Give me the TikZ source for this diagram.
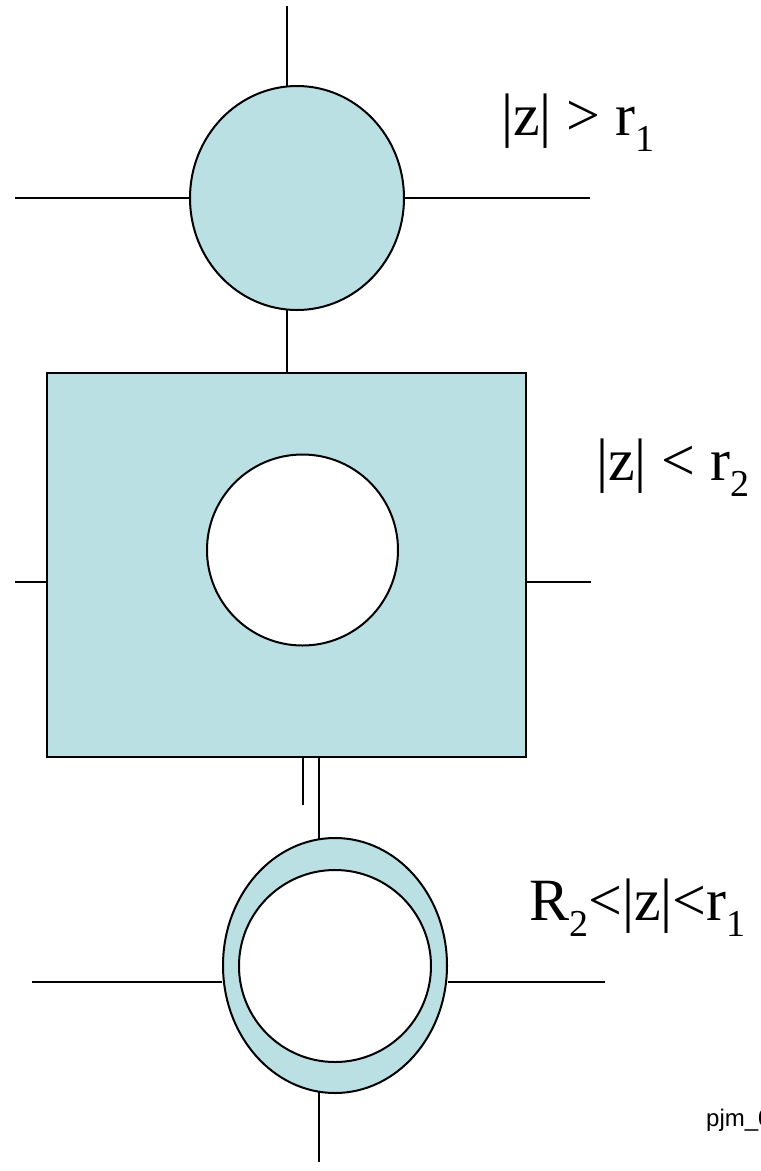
\documentclass[tikz,border=0pt]{standalone}
\usepackage{fontspec}
\setmainfont{Liberation Serif}
\newfontfamily\labsans{Liberation Sans}
\usetikzlibrary{shapes.geometric}
\definecolor{fillblue}{RGB}{187,224,227}
\newcommand{\subnum}[1]{\raisebox{-0.28em}{\fontsize{38}{38}\selectfont #1}}
\begin{document}
\begin{tikzpicture}[x=1pt,y=-1pt,
  ln/.style={line width=2pt,black},
  shapefill/.style={line width=2pt,draw=black,fill=fillblue},
  hole/.style={line width=2pt,draw=black,fill=white},
  lab/.style={anchor=base west,inner sep=0pt,font=\fontsize{60}{60}\selectfont}]
\useasboundingbox (0,0) rectangle (761,1171);
% top disc
\node[shapefill,ellipse,minimum width=214pt,minimum height=224pt,inner sep=0pt] (top) at (297,198) {};
\coordinate (t1) at (287,6);
\coordinate (t2) at (287,86);
\coordinate (t3) at (287,309);
\coordinate (tl) at (15,198);
\coordinate (tr) at (590,198);
\draw[ln] (t1) -- (t2);
\draw[ln] (tl) -- (top.west);
\draw[ln] (top.east) -- (tr);
% rectangle
\node[shapefill,rectangle,minimum width=479pt,minimum height=384pt,inner sep=0pt] (box) at (286.5,565) {};
\draw[ln] (t3) -- (box.north -| t3);
\node[hole,circle,minimum size=191pt,inner sep=0pt] (boxhole) at (302.5,550) {};
\coordinate (bl) at (15,582);
\coordinate (br) at (591,582);
\draw[ln] (bl) -- (bl -| box.west);
\draw[ln] (br -| box.east) -- (br);
% connectors below the rectangle
\coordinate (s1) at (303,757);
\coordinate (s2) at (303,805);
\draw[ln] (s1) -- (s2);
\coordinate (l1) at (319,757);
\coordinate (l2) at (319,839);
\draw[ln] (l1) -- (l2);
% annulus
\node[shapefill,ellipse,minimum width=224pt,minimum height=255pt,inner sep=0pt] (ring) at (335,965.5) {};
\node[hole,ellipse,minimum width=192pt,minimum height=192pt,inner sep=0pt] (ringhole) at (335,966) {};
\coordinate (al) at (32,982);
\coordinate (ar) at (605,982);
\coordinate (ab1) at (319,1092);
\coordinate (ab2) at (319,1162);
\draw[ln] (al) -- (al -| ring.west);
\draw[ln] (ar -| ring.east) -- (ar);
\draw[ln] (ab1) -- (ab2);
% labels
\node[lab] (lab1) at (501,135) {|z| > r\subnum{1}};
\node[lab] (lab2) at (596,480) {|z| < r\subnum{2}};
\node[lab] (lab3) at (529,920) {R\subnum{2}<|z|<r\subnum{1}};
\node[anchor=base west,inner sep=0pt,font=\labsans\fontsize{24}{24}\selectfont] (pjm) at (706,1126) {pjm\_06};
\end{tikzpicture}
\end{document}
